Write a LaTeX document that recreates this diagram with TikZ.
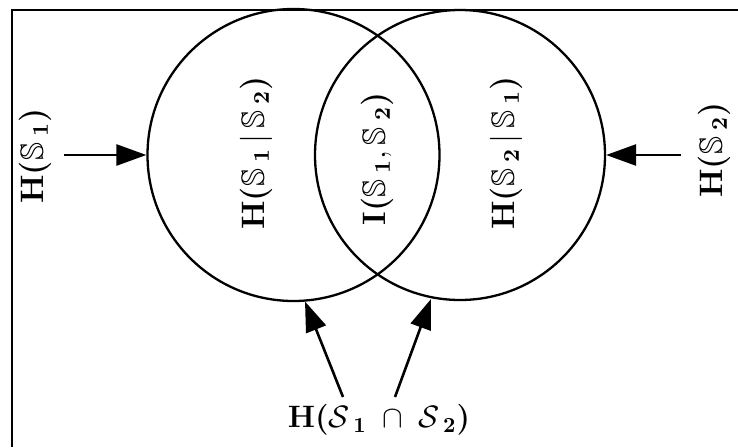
\documentclass[tikz,border=0pt]{standalone}
\usepackage{amssymb}
\usetikzlibrary{arrows.meta}
\begin{document}
\begin{tikzpicture}[x=1pt,y=-1pt,
  lbl/.style={font=\Large, scale=2.15, inner sep=0pt},
  rlbl/.style={font=\Large, scale=2.25, inner sep=0pt, rotate=90},
  circ/.style={draw, line width=2.3pt},
  arr/.style={line width=2.6pt, -{Triangle[length=30pt,width=21pt]}},
  frame/.style={line width=2.6pt}]
\useasboundingbox (0,0) rectangle (738,447);
\coordinate (tl) at (12,10);
\coordinate (tr) at (738,10);
\coordinate (bl) at (12,447);
\draw[frame] (tr) -- (tl) -- (bl);
\node[circle, circ, minimum size=292pt, inner sep=0pt] (c1) at (293.5,155) {};
\node[circle, circ, minimum size=290pt, inner sep=0pt] (c2) at (460,155) {};
\node[rlbl] (h1) at (35,156) {\textbf{H(}$\mathbb{S}_{\;\mathbf{1}}$\textbf{)}};
\node[rlbl] (h2) at (714,150) {\textbf{H(}$\mathbb{S}_{\;\mathbf{2}}$\textbf{)}};
\node[rlbl] (h12) at (256,153) {\textbf{H(}$\mathbb{S}_{\;\mathbf{1}}\,|\,\mathbb{S}_{\;\mathbf{2}}$\textbf{)}};
\node[rlbl] (i12) at (377,159) {\textbf{I(}$\mathbb{S}_{\;\mathbf{1}},\mathbb{S}_{\;\mathbf{2}}$\textbf{)}};
\node[rlbl] (h21) at (506,153) {\textbf{H(}$\mathbb{S}_{\;\mathbf{2}}\,|\,\mathbb{S}_{\;\mathbf{1}}$\textbf{)}};
\node[lbl] (hb) at (379,420) {\textbf{H(}$\mathcal{S}_{\;\mathbf{1}}\;\cap\;\mathcal{S}_{\;\mathbf{2}}$\textbf{)}};
\coordinate (a1s) at (64,155);
\coordinate (a2s) at (681,155);
\coordinate (b1s) at (343,397);
\coordinate (b2s) at (395,397);
\draw[arr] (a1s) -- (c1.west);
\draw[arr] (a2s) -- (c2.east);
\draw[arr] (b1s) -- (305,301.5);
\draw[arr] (b2s) -- (431,299);
\end{tikzpicture}
\end{document}
